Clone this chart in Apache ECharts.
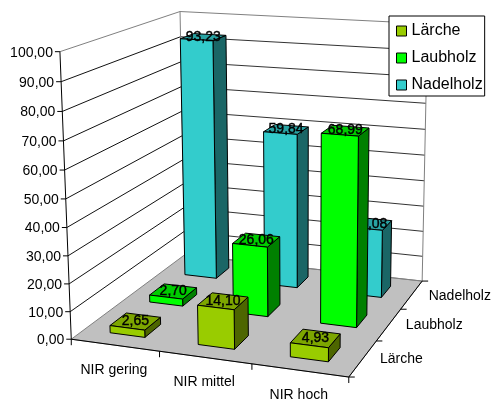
<!DOCTYPE html>
<html>
<head>
<meta charset="utf-8">
<style>html,body{margin:0;padding:0;background:#fff}#c{width:494px;height:401px}</style>
<script src="https://cdn.jsdelivr.net/npm/echarts@6/dist/echarts.min.js"></script>
</head>
<body>
<div id="c"></div>
<script>
// Wood share by NIR class, drawn as a 3D column chart on a custom projection.
var categories = ['NIR gering', 'NIR mittel', 'NIR hoch'];
var depthNames = ['Lärche', 'Laubholz', 'Nadelholz'];
var valuesLaerche = [2.65, 14.10, 4.93];
var valuesLaubholz = [2.70, 26.06, 68.99];
var valuesNadelholz = [93.23, 59.84, 26.08];
var valueTicks = [0, 10, 20, 30, 40, 50, 60, 70, 80, 90, 100];

var FONT = '14px "Liberation Sans", Arial, sans-serif';
var BAR_X = 0.4, BAR_Z = 0.4;

// Solve a 3x4 projective camera from known box corners (least squares).
var anchors = [
  [0, 0, 0, 71, 338], [1, 0, 0, 349, 378], [1, 0, 1, 422, 280], [0, 0, 1, 185, 256],
  [0, 1, 0, 60, 52], [0, 1, 1, 180, 11], [1, 1, 1, 427.5, 24]
];
function solveCamera(pts) {
  var rows = [], rhs = [];
  pts.forEach(function (p) {
    var x = p[0], y = p[1], z = p[2], u = p[3], v = p[4];
    rows.push([x, y, z, 1, 0, 0, 0, 0, -u * x, -u * y, -u * z]); rhs.push(u);
    rows.push([0, 0, 0, 0, x, y, z, 1, -v * x, -v * y, -v * z]); rhs.push(v);
  });
  var n = 11, m = [];
  for (var i = 0; i < n; i++) {
    m[i] = [];
    for (var j = 0; j <= n; j++) {
      var s = 0;
      for (var k = 0; k < rows.length; k++) s += rows[k][i] * (j === n ? rhs[k] : rows[k][j]);
      m[i][j] = s;
    }
    m[i][i] += 1e-9;
  }
  for (i = 0; i < n; i++) {
    var best = i;
    for (k = i + 1; k < n; k++) if (Math.abs(m[k][i]) > Math.abs(m[best][i])) best = k;
    var t = m[i]; m[i] = m[best]; m[best] = t;
    for (k = 0; k < n; k++) {
      if (k === i) continue;
      var f = m[k][i] / m[i][i];
      for (j = i; j <= n; j++) m[k][j] -= f * m[i][j];
    }
  }
  var sol = [];
  for (i = 0; i < n; i++) sol[i] = m[i][n] / m[i][i];
  return sol;
}
var cam = solveCamera(anchors);
function project(x, y, z) {
  var w = cam[8] * x + cam[9] * y + cam[10] * z + 1;
  return [(cam[0] * x + cam[1] * y + cam[2] * z + cam[3]) / w,
          (cam[4] * x + cam[5] * y + cam[6] * z + cam[7]) / w];
}

// The hidden grid spans 100 px, so its scales yield box coordinates directly.
function boxPoint(api, cat, value, depth) {
  var c = api.coord([cat, value]);
  return project(c[0] / 100, (100 - c[1]) / 100, depth / depthNames.length);
}
function line(a, b, color) {
  return { type: 'line', silent: true,
    shape: { x1: a[0], y1: a[1], x2: b[0], y2: b[1] },
    style: { stroke: color, lineWidth: 1, fill: null } };
}
function poly(points, fill) {
  return { type: 'polygon', silent: true, shape: { points: points },
    style: { fill: fill, stroke: '#000', lineWidth: 1, lineJoin: 'round' } };
}
function label(text, x, y, align, bold) {
  var style = { text: text, x: x, y: y, align: align, verticalAlign: 'middle', font: FONT, fill: '#000' };
  if (bold) { style.stroke = '#000'; style.lineWidth = 0.4; }
  return { type: 'text', silent: true, style: style };
}
function fmt(v) { return v.toFixed(2).replace('.', ','); }

function renderFrame(params, api) {
  var nC = categories.length, nD = depthNames.length, kids = [];
  var p = function (c, v, d) { return boxPoint(api, c, v, d); };
  kids.push({ type: 'polygon', silent: true,
    shape: { points: [p(0, 0, 0), p(nC, 0, 0), p(nC, 0, nD), p(0, 0, nD)] },
    style: { fill: '#c0c0c0', stroke: '#808080', lineWidth: 1 } });
  valueTicks.forEach(function (v) {
    var top = v === valueTicks[valueTicks.length - 1];
    if (v > 0) kids.push(line(p(0, v, 0), p(0, v, nD), top ? '#808080' : '#111'));
    kids.push(line(p(0, v, nD), p(nC, v, nD), (top || v === 0) ? '#808080' : '#333'));
    var a = p(0, v, 0);
    kids.push(line([a[0] - 5, a[1]], a, '#000'));
    kids.push(label(fmt(v), a[0] - 7, a[1] + 1, 'right'));
  });
  kids.push(line(p(0, 0, nD), p(0, 100, nD), '#808080'));
  kids.push(line(p(nC, 0, nD), p(nC, 100, nD), '#808080'));
  kids.push(line(p(0, 0, 0), p(0, 100, 0), '#000'));
  kids.push(line(p(0, 0, 0), p(nC, 0, 0), '#000'));
  kids.push(line(p(nC, 0, 0), p(nC, 0, nD), '#000'));
  for (var i = 0; i <= nC; i++) {
    var t = p(i, 0, 0);
    kids.push(line(t, [t[0], t[1] + 6], '#000'));
    if (i < nC) {
      var m = p(i + 0.5, 0, 0);
      kids.push(label(categories[i], m[0] - 1, m[1] + 25, 'center'));
    }
  }
  for (var d = 0; d <= nD; d++) {
    var e = p(nC, 0, d);
    kids.push(line(e, [e[0] + 6, e[1]], '#000'));
    if (d < nD) {
      var q = p(nC, 0, d + 0.5);
      kids.push(label(depthNames[d], q[0] + 17, q[1] + 1, 'left'));
    }
  }
  return { type: 'group', children: kids };
}

function barRenderer(colors) {
  return function (params, api) {
    var c = api.value(0), v = api.value(1), d = api.value(2);
    var x0 = c + 0.5 - BAR_X / 2, x1 = c + 0.5 + BAR_X / 2;
    var z0 = d + 0.5 - BAR_Z / 2, z1 = d + 0.5 + BAR_Z / 2;
    var p = function (x, h, z) { return boxPoint(api, x, h, z); };
    var mid = p(c + 0.5, v, d + 0.5);
    return { type: 'group', children: [
      poly([p(x1, 0, z0), p(x1, 0, z1), p(x1, v, z1), p(x1, v, z0)], colors[2]),
      poly([p(x0, v, z0), p(x1, v, z0), p(x1, v, z1), p(x0, v, z1)], colors[1]),
      poly([p(x0, 0, z0), p(x1, 0, z0), p(x1, v, z0), p(x0, v, z0)], colors[0]),
      label(fmt(v), mid[0], mid[1], 'center', true)
    ] };
  };
}
function rows(values, depth) {
  return values.map(function (v, i) { return [i, v, depth]; });
}
function barSeries(name, values, depth, colors) {
  return { name: name, type: 'custom', coordinateSystem: 'cartesian2d', clip: false,
    itemStyle: { color: colors[0] }, renderItem: barRenderer(colors),
    encode: { x: 0, y: 1 }, data: rows(values, depth), animation: false };
}

var chart = echarts.init(document.getElementById('c'), null, { renderer: 'canvas' });
chart.setOption({
  animation: false,
  backgroundColor: '#fff',
  grid: { left: 0, top: 0, width: 100, height: 100, show: false },
  xAxis: { type: 'value', min: 0, max: categories.length, show: false },
  yAxis: { type: 'value', min: 0, max: 100, interval: 10, show: false },
  legend: {
    data: depthNames, orient: 'vertical', left: 389, top: 16,
    padding: [7, 2, 3, 7], itemWidth: 10, itemHeight: 10, itemGap: 11,
    backgroundColor: '#fff', borderColor: '#000', borderWidth: 1, borderRadius: 0,
    icon: 'rect', selectedMode: false,
    itemStyle: { borderColor: '#000', borderWidth: 1 },
    textStyle: { fontFamily: '"Liberation Sans", Arial, sans-serif', fontSize: 16, color: '#000' }
  },
  series: [
    { type: 'custom', name: 'frame', coordinateSystem: 'cartesian2d', clip: false,
      renderItem: renderFrame, data: [[0, 0]], animation: false },
    barSeries('Nadelholz', valuesNadelholz, 2, ['#33cccc', '#29a3a3', '#1a6666']),
    barSeries('Laubholz', valuesLaubholz, 1, ['#00ff00', '#00cc00', '#008000']),
    barSeries('Lärche', valuesLaerche, 0, ['#99cc00', '#7da600', '#4d6600'])
  ]
});
</script>
</body>
</html>
